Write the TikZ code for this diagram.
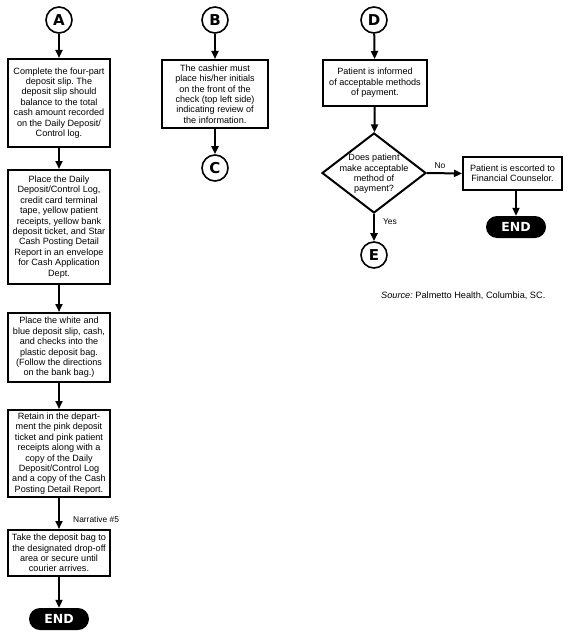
\documentclass[tikz,border=0pt]{standalone}
\usepackage{fontspec}
\setmainfont{Liberation Sans}
\newfontfamily\heavyfont{DejaVu Sans}
\usetikzlibrary{shapes.geometric,arrows.meta}
\begin{document}
\frenchspacing
\begin{tikzpicture}[x=1pt,y=-1pt,
  box/.style={draw,line width=2pt,align=center,inner sep=1pt,
    font=\fontsize{9.1}{10.4}\selectfont},
  conn/.style={circle,draw,line width=1.6pt,minimum size=26pt,inner sep=0pt,
    font=\heavyfont\fontsize{15}{15}\selectfont\bfseries},
  endnode/.style={fill=black,text=white,rounded corners=11pt,minimum width=60pt,
    minimum height=22pt,inner sep=0pt,font=\heavyfont\fontsize{12.5}{12.5}\selectfont\bfseries},
  arr/.style={line width=2pt,-{Triangle[length=8pt,width=7pt]}},
  lbl/.style={font=\fontsize{8.4}{9}\selectfont,inner sep=0pt}
]
\useasboundingbox (0,0) rectangle (587,642);

% Column A
\node[box,minimum width=102pt,minimum height=88pt] (a1) at (59,103)
  {Complete the four-part\\deposit slip. The\\deposit slip should\\balance to the total\\cash amount recorded\\on the Daily Deposit/\\Control log.};
\node[conn] (A) at (59,20) {A};
\node[box,minimum width=102pt,minimum height=114pt] (a2) at (59,227)
  {Place the Daily\\Deposit/Control Log,\\credit card terminal\\tape, yellow patient\\receipts, yellow bank\\deposit ticket, and Star\\Cash Posting Detail\\Report in an envelope\\for Cash Application\\Dept.};
\node[box,minimum width=102pt,minimum height=69pt] (a3) at (59,347.5)
  {Place the white and\\blue deposit slip, cash,\\and checks into the\\plastic deposit bag.\\(Follow the directions\\on the bank bag.)};
\node[box,minimum width=102pt,minimum height=87pt] (a4) at (59,453.5)
  {Retain in the depart-\\ment the pink deposit\\ticket and pink patient\\receipts along with a\\copy of the Daily\\Deposit/Control Log\\and a copy of the Cash\\Posting Detail Report.};
\node[box,minimum width=102pt,minimum height=46pt] (a5) at (59,553)
  {Take the deposit bag to\\the designated drop-off\\area or secure until\\courier arrives.};
\node[endnode] (endA) at (59,619) {END};
\node[lbl,anchor=west] (narr) at (73,519) {Narrative \#5};

\draw[arr] (A) -- (a1);
\draw[arr] (a1) -- (a2);
\draw[arr] (a2) -- (a3);
\draw[arr] (a3) -- (a4);
\draw[arr] (a4) -- (a5);
\draw[arr] (a5) -- (endA);

% Column B
\node[conn] (B) at (215,20) {B};
\node[box,minimum width=106pt,minimum height=68pt] (b1) at (215,94)
  {The cashier must\\place his/her initials\\on the front of the\\check (top left side)\\indicating review of\\the information.};
\node[conn] (C) at (215,168) {C};
\draw[arr] (B) -- (b1);
\draw[arr] (b1) -- (C);

% Column D
\node[conn] (D) at (374,20) {D};
\node[box,minimum width=104pt,minimum height=46pt] (d1) at (375,83)
  {Patient is informed\\of acceptable methods\\of payment.};
\node[diamond,draw,line width=2pt,minimum width=104pt,minimum height=80pt,inner sep=0pt] (q) at (374,173) {};
\node[align=center,font=\fontsize{9.1}{10.4}\selectfont,inner sep=0pt] (qt) at (374,174)
  {Does patient\\make acceptable\\method of\\payment?};
\node[box,minimum width=99pt,minimum height=33pt] (esc) at (512.5,173.5)
  {Patient is escorted to\\Financial Counselor.};
\node[endnode] (endD) at (516,227) {END};
\node[conn] (E) at (374,255) {E};
\node[lbl] (no) at (440,166) {No};
\node[lbl] (yes) at (390,222) {Yes};

\draw[arr] (D) -- (d1);
\draw[arr] (d1) -- (q);
\draw[arr] (q.east) -- (esc.west);
\draw[arr] (q.south) -- (E);
\draw[arr] (esc.south -| endD) -- (endD);

\node[font=\fontsize{9.2}{10}\selectfont,anchor=west,inner sep=0pt] (src) at (381,296)
  {\textit{Source:} Palmetto Health, Columbia, SC.};
\end{tikzpicture}
\end{document}
